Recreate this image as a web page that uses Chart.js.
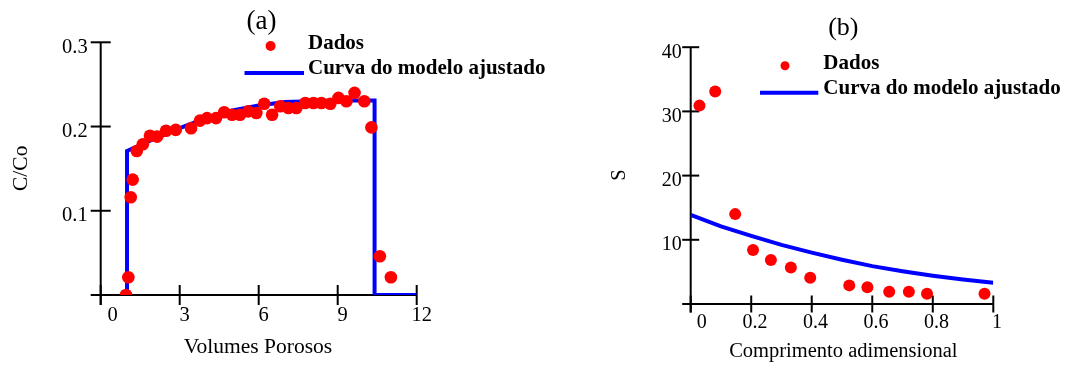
<!DOCTYPE html>
<html>
<head>
<meta charset="utf-8">
<script src="https://cdn.jsdelivr.net/npm/chart.js@4.4.1/dist/chart.umd.min.js"></script>
<style>
  html, body { margin: 0; padding: 0; background: #fff; }
  #wrap { position: relative; width: 1066px; height: 365px; overflow: hidden; background: #fff; }
  canvas { position: absolute; top: 0; }
</style>
</head>
<body>
<div id="wrap">
  <canvas id="chartA" width="560" height="365" style="left:0;width:560px;height:365px"></canvas>
  <canvas id="chartB" width="506" height="365" style="left:560px;width:506px;height:365px"></canvas>
</div>
<script>
// ---- (a) breakthrough curve: measured points ----
const volumesA = [0.96, 1.05, 1.14, 1.215, 1.37, 1.6, 1.87, 2.14, 2.48, 2.85, 3.43, 3.77, 4.04, 4.38, 4.69,
                  4.99, 5.29, 5.6, 5.91, 6.21, 6.51, 6.82, 7.13, 7.43, 7.77, 8.08, 8.38, 8.72, 9.03, 9.33,
                  9.64, 10.01, 10.28, 10.6, 11.02];
const ratioA   = [0, 0.021, 0.116, 0.137, 0.171, 0.179, 0.189, 0.188, 0.195, 0.196, 0.198, 0.207, 0.210, 0.210, 0.217,
                  0.214, 0.214, 0.218, 0.216, 0.227, 0.214, 0.224, 0.222, 0.222, 0.228, 0.228, 0.228, 0.227, 0.234, 0.230,
                  0.240, 0.230, 0.199, 0.046, 0.021];
// ---- (a) fitted model curve ----
const modelVolA   = [1.0, 1.0, 1.5, 2.0, 2.5, 3.0, 3.5, 4.0, 4.5, 5.0, 5.5, 6.0, 6.5, 7.0, 8.0, 9.0, 10.4, 10.4, 12.0];
const modelRatioA = [0, 0.171, 0.178, 0.185, 0.191, 0.198, 0.204, 0.210, 0.215, 0.219, 0.222, 0.225, 0.227, 0.229, 0.230, 0.231, 0.231, 0, 0];

// ---- (b) profile along the column: measured points ----
const lengthB = [0.029, 0.081, 0.147, 0.206, 0.265, 0.331, 0.395, 0.524, 0.584, 0.656, 0.721, 0.781, 0.971];
const sB      = [30.9, 33.1, 14.0, 8.4, 6.85, 5.7, 4.1, 2.9, 2.6, 1.9, 1.9, 1.6, 1.6];
// ---- (b) fitted model curve ----
const modelLenB = [0, 0.1, 0.2, 0.3, 0.4, 0.5, 0.6, 0.7, 0.8, 0.9, 1.0];
const modelSB   = [13.9, 12.1, 10.6, 9.2, 8.0, 6.9, 5.9, 5.1, 4.4, 3.8, 3.3];

// ---- tick labels ----
const xTicksA = [0, 3, 6, 9, 12];
const yTicksA = [0.1, 0.2, 0.3];
const xTicksB = [0, 0.2, 0.4, 0.6, 0.8, 1];
const yTicksB = [10, 20, 30, 40];

const legendDots = 'Dados';
const legendLine = 'Curva do modelo ajustado';

const SERIF = '"Liberation Serif", "Times New Roman", serif';
const RED = '#ff0000';
const BLUE = '#0000ff';

const toXY = (xs, ys) => xs.map((x, i) => ({ x: x, y: ys[i] }));

// Mathcad-style frame: axes with ticks crossing the line, labels drawn through the scales.
const frame = {
  id: 'frame',
  beforeDatasetsDraw(chart, args, o) {
    const ctx = chart.ctx;
    const xs = chart.scales.x, ys = chart.scales.y;
    const x0 = xs.getPixelForValue(xs.min), x1 = xs.getPixelForValue(xs.max);
    const y0 = ys.getPixelForValue(ys.min), yTop = ys.getPixelForValue(ys.max);
    const seg = (a, b, c, d) => { ctx.beginPath(); ctx.moveTo(a, b); ctx.lineTo(c, d); ctx.stroke(); };
    ctx.save();
    ctx.strokeStyle = '#000';
    ctx.lineWidth = 2;
    ctx.lineCap = 'butt';
    seg(x0, yTop, x0, y0 + o.tick);
    seg(x0 - o.tick, y0, x1, y0);
    o.yTicks.forEach(v => { const p = ys.getPixelForValue(v); seg(x0 - o.tick, p, x0 + o.tick, p); });
    o.xTicks.forEach(v => { const p = xs.getPixelForValue(v); seg(p, y0 - o.tick, p, y0 + o.tick); });

    ctx.fillStyle = '#000';
    ctx.font = o.tickFont + 'px ' + SERIF;
    ctx.textBaseline = 'alphabetic';
    ctx.textAlign = 'right';
    o.yTicks.forEach(v => ctx.fillText(String(v), x0 - o.yGap, ys.getPixelForValue(v) + o.yDy));
    o.xTicks.forEach(v => {
      const p = xs.getPixelForValue(v);
      if (v === xs.min) {
        ctx.textAlign = 'left';
        ctx.fillText(String(v), x0 + o.originGap, y0 + o.xDy);
      } else {
        ctx.textAlign = 'center';
        ctx.fillText(String(v), p + o.xDx, y0 + o.xDy);
      }
    });
    ctx.restore();
  },
  afterDraw(chart, args, o) {
    const ctx = chart.ctx;
    ctx.save();
    ctx.fillStyle = '#000';
    // panel letter
    ctx.font = o.titleFont + 'px ' + SERIF;
    ctx.textAlign = 'center';
    ctx.textBaseline = 'alphabetic';
    ctx.fillText(o.title, o.titleX, o.titleY);
    // axis titles
    ctx.font = o.axisFont + 'px ' + SERIF;
    ctx.fillText(o.xTitle, o.xTitleX, o.xTitleY);
    ctx.save();
    ctx.translate(o.yTitleX, o.yTitleY);
    ctx.rotate(-Math.PI / 2);
    ctx.fillText(o.yTitle, 0, 0);
    ctx.restore();
    // legend
    ctx.font = 'bold ' + o.legendFont + 'px ' + SERIF;
    ctx.textAlign = 'left';
    ctx.fillText(legendDots, o.legX, o.legY1);
    ctx.fillText(legendLine, o.legX, o.legY2);
    ctx.fillStyle = RED;
    ctx.beginPath();
    ctx.arc(o.dotX, o.dotY, o.dotR, 0, Math.PI * 2);
    ctx.fill();
    ctx.strokeStyle = BLUE;
    ctx.lineWidth = 4;
    ctx.beginPath();
    ctx.moveTo(o.lineX1, o.lineY);
    ctx.lineTo(o.lineX2, o.lineY);
    ctx.stroke();
    ctx.restore();
  }
};

function makeChart(id, pts, model, xr, yr, pad, frameOpts, radius) {
  return new Chart(document.getElementById(id), {
    type: 'scatter',
    data: {
      datasets: [
        { label: legendDots, data: pts, order: 0, showLine: false,
          pointRadius: radius, pointHoverRadius: radius, pointBackgroundColor: RED,
          pointBorderWidth: 0, backgroundColor: RED },
        { label: legendLine, data: model, order: 1, showLine: true, tension: 0,
          borderColor: BLUE, borderWidth: 4, pointRadius: 0, pointHoverRadius: 0,
          borderJoinStyle: 'miter', borderCapStyle: 'butt', fill: false }
      ]
    },
    options: {
      responsive: false,
      animation: false,
      events: [],
      layout: { padding: pad },
      scales: {
        x: { type: 'linear', min: xr[0], max: xr[1], display: false },
        y: { type: 'linear', min: yr[0], max: yr[1], display: false }
      },
      plugins: { legend: { display: false }, tooltip: { enabled: false }, frame: frameOpts }
    },
    plugins: [frame]
  });
}

makeChart('chartA', toXY(volumesA, ratioA), toXY(modelVolA, modelRatioA),
  [0, 12], [0, 0.3],
  { left: 100.7, right: 143.3, top: 42.3, bottom: 70 },
  { xTicks: xTicksA, yTicks: yTicksA, tick: 10,
    tickFont: 20.5, yGap: 13, yDy: 10.7, xDx: 5, xDy: 25.7, originGap: 6.8,
    title: '(a)', titleFont: 27, titleX: 261.6, titleY: 28.5,
    axisFont: 21.5, xTitle: 'Volumes Porosos', xTitleX: 258, xTitleY: 353,
    yTitle: 'C/Co', yTitleX: 26.9, yTitleY: 168.3,
    legendFont: 21, legX: 308, legY1: 49.3, legY2: 74,
    dotX: 270.6, dotY: 46, dotR: 5, lineX1: 244.5, lineX2: 304, lineY: 73 },
  6.3);

makeChart('chartB', toXY(lengthB, sB), toXY(modelLenB, modelSB),
  [0, 1], [0, 40],
  { left: 130.7, right: 72.7, top: 47.2, bottom: 61 },
  { xTicks: xTicksB, yTicks: yTicksB, tick: 8.5,
    tickFont: 20, yGap: 9, yDy: 10.3, xDx: 3.7, xDy: 24.3, originGap: 6,
    title: '(b)', titleFont: 26, titleX: 283.3, titleY: 35.3,
    axisFont: 20.5, xTitle: 'Comprimento adimensional', xTitleX: 283.3, xTitleY: 357.3,
    yTitle: 'S', yTitleX: 65, yTitleY: 175,
    legendFont: 21, legX: 263.3, legY1: 69.3, legY2: 94,
    dotX: 225, dotY: 65.7, dotR: 4.5, lineX1: 200, lineX2: 258.3, lineY: 92.7 },
  6);
</script>
</body>
</html>
